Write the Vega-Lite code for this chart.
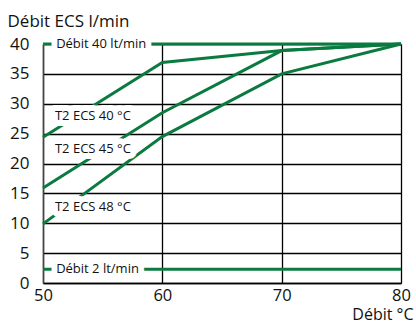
{
  "$schema": "https://vega.github.io/schema/vega-lite/v6.json",
  "autosize": {"type": "none"},
  "width": 358,
  "height": 239,
  "padding": {"left": 43, "top": 44, "right": 15, "bottom": 41},
  "background": "white",
  "config": {
    "view": {"stroke": null},
    "font": "Open Sans",
    "axis": {"labelFont": "Open Sans", "titleFont": "Open Sans", "labelColor": "#111", "titleColor": "#111", "titleFontWeight": "normal"}
  },
  "datasets": {
    "lines": [
      {"series": "T2 ECS 40", "temp": 50, "flow": 24.4},
      {"series": "T2 ECS 40", "temp": 60, "flow": 36.9},
      {"series": "T2 ECS 40", "temp": 70, "flow": 38.9},
      {"series": "T2 ECS 40", "temp": 80, "flow": 40},
      {"series": "T2 ECS 45", "temp": 50, "flow": 15.9},
      {"series": "T2 ECS 45", "temp": 60, "flow": 28.5},
      {"series": "T2 ECS 45", "temp": 70, "flow": 38.9},
      {"series": "T2 ECS 45", "temp": 80, "flow": 40},
      {"series": "T2 ECS 48", "temp": 50, "flow": 9.9},
      {"series": "T2 ECS 48", "temp": 60, "flow": 24.5},
      {"series": "T2 ECS 48", "temp": 70, "flow": 35.0},
      {"series": "T2 ECS 48", "temp": 80, "flow": 40},
      {"series": "Débit 40", "temp": 50, "flow": 40},
      {"series": "Débit 40", "temp": 80, "flow": 40},
      {"series": "Débit 2", "temp": 50, "flow": 2.3},
      {"series": "Débit 2", "temp": 80, "flow": 2.3}
    ],
    "labels": [
      {"label": "Débit 40 lt/min", "temp": 51.1, "flow": 40},
      {"label": "T2 ECS 40 °C", "temp": 51.0, "flow": 28.0},
      {"label": "T2 ECS 45 °C", "temp": 51.0, "flow": 22.4},
      {"label": "T2 ECS 48 °C", "temp": 51.0, "flow": 12.7},
      {"label": "Débit 2 lt/min", "temp": 51.1, "flow": 2.3}
    ]
  },
  "encoding": {
    "x": {
      "field": "temp", "type": "quantitative",
      "scale": {"domain": [50, 80], "nice": false, "zero": false},
      "axis": {
        "values": [50, 60, 70, 80], "grid": true, "gridColor": "#000", "gridWidth": 1.3, "gridOpacity": 1,
        "domain": true, "domainColor": "#000", "domainWidth": 1.3, "ticks": false,
        "labelFontSize": 16.5, "labelPadding": 4, "labelFlush": false, "labelOverlap": false,
        "title": "Débit °C", "titleFontSize": 16, "titleAlign": "right", "titleAnchor": null,
        "titleX": 370, "titleY": 36.5, "titleBaseline": "alphabetic"
      }
    },
    "y": {
      "field": "flow", "type": "quantitative",
      "scale": {"domain": [0, 40], "nice": false},
      "axis": {
        "values": [0, 5, 10, 15, 20, 25, 30, 35, 40], "grid": true, "gridColor": "#000", "gridWidth": 1.3, "gridOpacity": 1,
        "domain": true, "domainColor": "#444", "domainWidth": 1.5, "ticks": false,
        "labelFontSize": 17, "labelPadding": 14, "labelFlush": false,
        "title": "Débit ECS l/min", "titleFontSize": 17, "titleAngle": 0, "titleAlign": "left",
        "titleX": -36, "titleY": -18, "titleBaseline": "alphabetic"
      }
    }
  },
  "layer": [
    {
      "data": {"name": "lines"},
      "mark": {"type": "line", "color": "#0b7a40", "strokeWidth": 3},
      "encoding": {"detail": {"field": "series"}}
    },
    {
      "data": {"name": "labels"},
      "mark": {"type": "text", "align": "left", "baseline": "middle", "fontSize": 13, "stroke": "white", "strokeWidth": 12, "strokeJoin": "round", "fill": "white"},
      "encoding": {"text": {"field": "label"}}
    },
    {
      "data": {"name": "labels"},
      "mark": {"type": "text", "align": "left", "baseline": "middle", "fontSize": 13, "fill": "#111"},
      "encoding": {"text": {"field": "label"}}
    }
  ]
}
